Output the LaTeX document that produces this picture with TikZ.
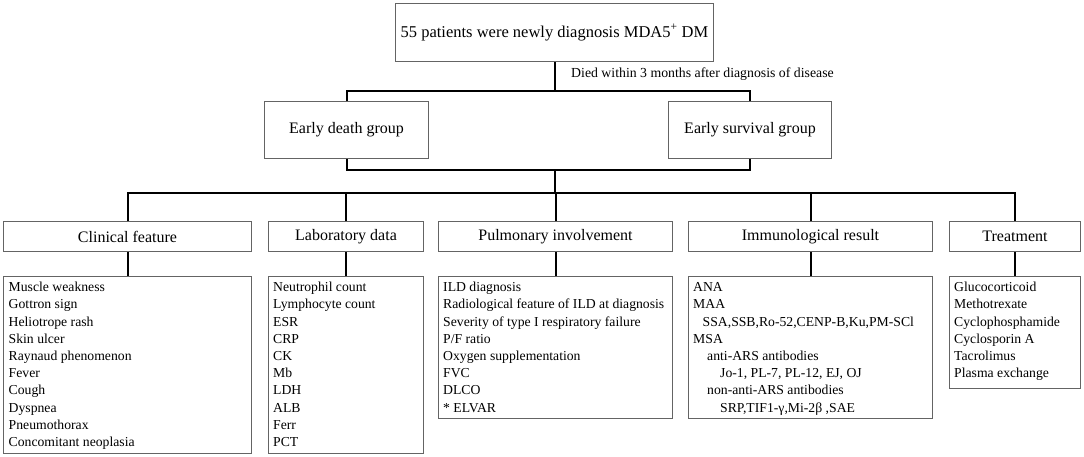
\documentclass[tikz,border=0pt]{standalone}
\usepackage{fontspec}
\setmainfont{Liberation Serif}
\begin{document}
\begin{tikzpicture}[x=1pt,y=-1pt,
  box/.style={draw=boxgray, line width=1pt, inner sep=0pt, anchor=north west, align=center},
  conn/.style={draw=black, line width=2pt},
  topfont/.style={font=\fontsize{16.5}{20}\selectfont},
  catfont/.style={font=\fontsize{16}{19}\selectfont},
  listtext/.style={anchor=north west, inner sep=0pt, align=left, font=\fontsize{13.7}{17.2}\selectfont},
]
\definecolor{boxgray}{RGB}{100,100,100}
\useasboundingbox[fill=white] (0,0) rectangle (1084,456);
% top
\node[box, topfont, minimum width=318pt, minimum height=58pt] (top) at (395,3) {55 patients were newly diagnosis MDA5\textsuperscript{+} DM};
% groups
\node[box, catfont, minimum width=164pt, minimum height=57pt] (death) at (264,101) {Early death group};
\node[box, catfont, minimum width=163pt, minimum height=57pt] (surv) at (668,101) {Early survival group};
\node[anchor=west, inner sep=0pt, font=\fontsize{13.8}{16}\selectfont] (lbl) at (571,74) {Died within 3 months after diagnosis of disease};
% categories
\node[box, catfont, minimum width=248pt, minimum height=30pt] (clin) at (3,221) {Clinical feature};
\node[box, catfont, minimum width=155pt, minimum height=30pt] (lab) at (268,221) {Laboratory data};
\node[box, catfont, minimum width=234pt, minimum height=30pt] (pulm) at (438,221) {Pulmonary involvement};
\node[box, catfont, minimum width=244pt, minimum height=30pt] (immu) at (688,221) {Immunological result};
\node[box, catfont, minimum width=131pt, minimum height=30pt] (treat) at (949,221) {Treatment};
% detail boxes
\node[box, minimum width=248pt, minimum height=177pt] (clinD) at (3,276) {};
\node[box, minimum width=155pt, minimum height=177pt] (labD) at (268,276) {};
\node[box, minimum width=234pt, minimum height=142pt] (pulmD) at (438,276) {};
\node[box, minimum width=244pt, minimum height=142pt] (immuD) at (688,276) {};
\node[box, minimum width=131pt, minimum height=112pt] (treatD) at (949,276) {};
% detail texts
\node[listtext] (clinT) at (8.5,279.5) {\strut Muscle weakness\\Gottron sign\\Heliotrope rash\\Skin ulcer\\Raynaud phenomenon\\Fever\\Cough\\Dyspnea\\Pneumothorax\\Concomitant neoplasia};
\node[listtext] (labT) at (273,279.5) {\strut Neutrophil count\\Lymphocyte count\\ESR\\CRP\\CK\\Mb\\LDH\\ALB\\Ferr\\PCT};
\node[listtext] (pulmT) at (443,279.5) {\strut ILD diagnosis\\Radiological feature of ILD at diagnosis\\Severity of type I respiratory failure\\P/F ratio\\Oxygen supplementation\\FVC\\DLCO\\* ELVAR};
\node[listtext] (immuT) at (693,279.5) {\strut ANA\\MAA\\\hspace*{9.5pt}SSA,SSB,Ro-52,CENP-B,Ku,PM-SCl\\MSA\\\hspace*{14pt}anti-ARS antibodies\\\hspace*{27pt}Jo-1, PL-7, PL-12, EJ, OJ\\\hspace*{14pt}non-anti-ARS antibodies\\\hspace*{27pt}SRP,TIF1-γ,Mi-2β ,SAE};
\node[listtext] (treatT) at (954,279.5) {\strut Glucocorticoid\\Methotrexate\\Cyclophosphamide\\Cyclosporin A\\Tacrolimus\\Plasma exchange};
% connectors
\coordinate (bar1) at (554,91);
\coordinate (bar2) at (555,170);
\coordinate (bar3) at (555,193);
\draw[conn] (top.south) -- (top.south |- bar1);
\draw[conn] (death.north) |- (bar1) -| (surv.north);
\draw[conn] (death.south) |- (bar2) -| (surv.south);
\draw[conn] (bar2) -- (bar3);
\draw[conn] (clin.north) |- (bar3) -| (treat.north);
\draw[conn] (lab.north) -- (lab.north |- bar3);
\draw[conn] (pulm.north) -- (pulm.north |- bar3);
\draw[conn] (immu.north) -- (immu.north |- bar3);
\draw[conn] (clin.south) -- (clinD.north -| clin.south);
\draw[conn] (lab.south) -- (labD.north -| lab.south);
\draw[conn] (pulm.south) -- (pulmD.north -| pulm.south);
\draw[conn] (immu.south) -- (immuD.north -| immu.south);
\draw[conn] (treat.south) -- (treatD.north -| treat.south);
\end{tikzpicture}
\end{document}
